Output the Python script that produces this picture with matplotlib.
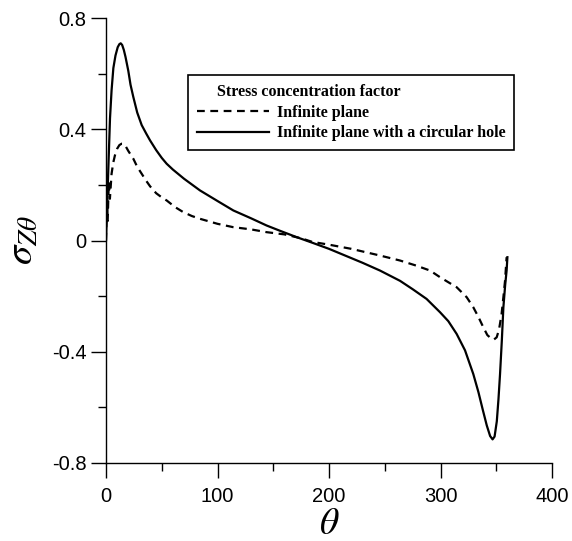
import matplotlib
matplotlib.use("Agg")
import matplotlib.pyplot as plt
from matplotlib.ticker import MultipleLocator

#----------------------------------------------------------------------data
# infinite plane (dashed)
theta_plane = [0, 0.8, 1.5, 2.5, 3.5, 5, 6.5, 8, 10, 12, 14, 15.6, 17.5, 20,
               24.5, 28, 32, 36, 39.5, 45, 50, 54.4, 62, 69.3, 77, 84.3, 100,
               114, 130, 144, 160, 175, 185, 200, 220, 245.7, 263.7, 278, 290.6,
               299.6, 307, 314.5, 323.5, 329.4, 334, 338.4, 342, 345.9, 348,
               350.4, 352.5, 354.8, 356.5, 357.9, 359.3]
sigma_plane = [0, 0.18, 0.07, 0.21, 0.15, 0.24, 0.28, 0.306, 0.33, 0.343, 0.348,
               0.348, 0.34, 0.322, 0.294, 0.265, 0.24, 0.215, 0.195, 0.17, 0.155,
               0.144, 0.12, 0.102, 0.088, 0.078, 0.06, 0.048, 0.04, 0.03, 0.022,
               0.008, -0.005, -0.015, -0.03, -0.054, -0.072, -0.09, -0.108,
               -0.132, -0.15, -0.168, -0.204, -0.24, -0.275, -0.312, -0.34,
               -0.354, -0.356, -0.348, -0.32, -0.264, -0.2, -0.144, -0.06]

# infinite plane with a circular hole (solid)
theta_hole = [0, 1, 2.1, 3.6, 5, 6.6, 8.5, 10.5, 12, 13.2, 14.5, 16, 17.5, 20,
              22, 24.5, 28, 32, 36, 39.5, 45, 50, 54.4, 60, 70, 84.3, 100, 114.2,
              130, 144, 156, 171, 185, 200, 215, 230, 245.7, 263.7, 275, 287.5,
              299.6, 307, 314.5, 322, 329.4, 334, 338, 341.5, 344.5, 346.7,
              348.5, 350.5, 352, 353.4, 355, 356.4, 358, 359.3, 360]
sigma_hole = [0, 0.12, 0.26, 0.44, 0.54, 0.62, 0.665, 0.695, 0.706, 0.709,
              0.703, 0.685, 0.66, 0.61, 0.56, 0.516, 0.46, 0.415, 0.385, 0.36,
              0.325, 0.297, 0.276, 0.255, 0.222, 0.18, 0.142, 0.108, 0.08, 0.054,
              0.035, 0.012, -0.008, -0.03, -0.055, -0.08, -0.108, -0.145,
              -0.175, -0.21, -0.258, -0.29, -0.336, -0.395, -0.48, -0.545,
              -0.61, -0.665, -0.703, -0.715, -0.705, -0.65, -0.57, -0.48, -0.36,
              -0.24, -0.16, -0.108, -0.06]

x_ticks = [0, 100, 200, 300, 400]
y_ticks = [-0.8, -0.4, 0, 0.4, 0.8]
y_tick_labels = ['-0.8', '-0.4', '0', '0.4', '0.8']

#----------------------------------------------------------------------plot
plt.rcParams['mathtext.fontset'] = 'stix'

fig = plt.figure(figsize=(5.72, 5.41), dpi=100)
ax = fig.add_axes([106/572, 1 - 463/541, 446/572, 445/541])

ax.plot(theta_plane, sigma_plane, color='black', lw=1.6, ls=(0, (3.5, 2.5)),
        label='Infinite plane')
ax.plot(theta_hole, sigma_hole, color='black', lw=1.6, ls='-',
        label='Infinite plane with a circular hole')

ax.set_xlim(0, 400)
ax.set_ylim(-0.8, 0.8)
ax.set_xticks(x_ticks)
ax.set_yticks(y_ticks)
ax.set_yticklabels(y_tick_labels)
ax.xaxis.set_minor_locator(MultipleLocator(50))
ax.yaxis.set_minor_locator(MultipleLocator(0.2))

for side in ['top', 'right']:
    ax.spines[side].set_visible(False)
for side in ['left', 'bottom']:
    ax.spines[side].set_linewidth(1.0)

ax.tick_params(which='major', direction='out', length=11, width=1.0,
               labelsize=14.5)
ax.tick_params(axis='x', which='major', pad=6)
ax.tick_params(axis='y', which='major', pad=3)
ax.tick_params(which='minor', direction='out', length=5.5, width=1.0)
for lab in ax.get_xticklabels() + ax.get_yticklabels():
    lab.set_fontfamily('Liberation Sans')

ax.set_xlabel(r'$\theta$', fontsize=27, labelpad=0.5)
ax.set_ylabel(r'$\sigma_{Z\theta}$', fontsize=28, labelpad=8)

leg = ax.legend(loc='upper left', bbox_to_anchor=(188/572, 1 - 75/541),
                bbox_transform=fig.transFigure,
                title='     Stress concentration factor',
                alignment='left', frameon=True, fancybox=False, shadow=False,
                handlelength=4.5, handletextpad=0.5, labelspacing=0.3,
                borderpad=0.55, borderaxespad=0,
                prop={'family': 'Liberation Serif', 'size': 11.5, 'weight': 'bold'})
leg.get_title().set_fontfamily('Liberation Serif')
leg.get_title().set_fontsize(11.5)
leg.get_title().set_fontweight('bold')
leg.get_frame().set_edgecolor('black')
leg.get_frame().set_linewidth(1.2)
leg.get_frame().set_alpha(1)

fig.savefig('out.png', dpi=100)
